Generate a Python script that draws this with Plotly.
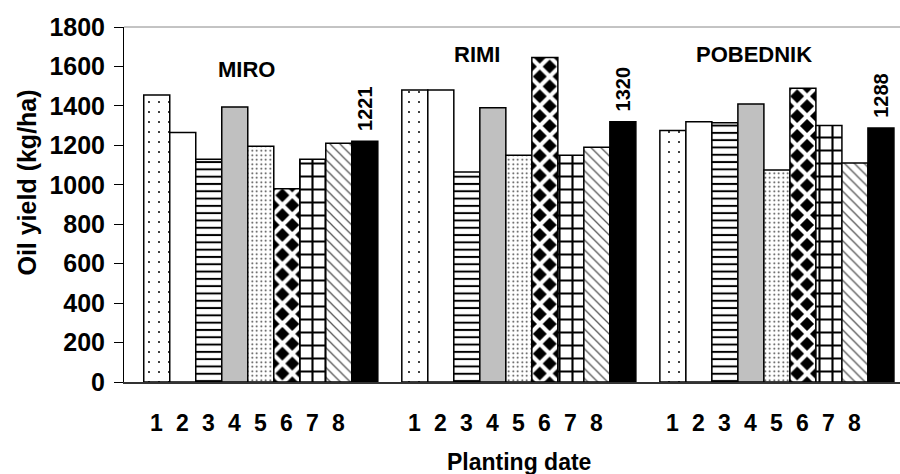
import plotly.graph_objects as go

varieties = ["MIRO", "RIMI", "POBEDNIK"]
date_labels = ["1", "2", "3", "4", "5", "6", "7", "8"]
date1 = [1455, 1480, 1275]
date2 = [1265, 1480, 1320]
date3 = [1130, 1065, 1315]
date4 = [1395, 1390, 1410]
date5 = [1195, 1150, 1075]
date6 = [980, 1645, 1490]
date7 = [1130, 1150, 1300]
date8 = [1210, 1190, 1110]
average = [1221, 1320, 1288]
y_ticks = [0, 200, 400, 600, 800, 1000, 1200, 1400, 1600, 1800]

series = [date1, date2, date3, date4, date5, date6, date7, date8, average]

FONT = "Liberation Sans, Arial, sans-serif"

styles = [
    dict(color="white", pattern=dict(shape=".", fgcolor="black", bgcolor="white", size=10, solidity=0.03)),
    dict(color="white"),
    dict(color="white", pattern=dict(shape="-", fgcolor="black", bgcolor="white", size=7.3, solidity=0.27)),
    dict(color="#c0c0c0"),
    dict(color="white", pattern=dict(shape=".", fgcolor="#333333", bgcolor="white", size=4.5, solidity=0.12)),
    dict(color="white", pattern=dict(shape="x", fgcolor="white", bgcolor="black", size=14, solidity=0.5)),
    dict(color="white", pattern=dict(shape="+", fgcolor="black", bgcolor="white", size=13, solidity=0.3)),
    dict(color="white", pattern=dict(shape="\\", fgcolor="#555555", bgcolor="white", size=7, solidity=0.18)),
    dict(color="black"),
]

fig = go.Figure()
names = date_labels + ["Mean"]
for i, (vals, st) in enumerate(zip(series, styles)):
    marker = dict(color=st["color"], line=dict(color="black", width=1.5))
    if "pattern" in st:
        pat = dict(st["pattern"])
        pat["fgopacity"] = 1
        marker["pattern"] = pat
    kw = {}
    if i == len(series) - 1:
        kw = dict(text=["\u00a0\u200a" + str(v) for v in vals], textposition="outside",
                  textangle=-90, constraintext="none",
                  textfont=dict(family=FONT, size=20, color="black", weight="bold"),
                  cliponaxis=False)
    fig.add_trace(go.Bar(x=varieties, y=vals, name=names[i], marker=marker,
                         showlegend=False, **kw))

bargap = 0.093
nb = len(series)
bw = (1 - bargap) / nb

annotations = []
# planting date labels under each bar
for g in range(len(varieties)):
    for j, lab in enumerate(date_labels):
        xc = g - (1 - bargap) / 2 + (j + 0.5) * bw
        annotations.append(dict(x=xc, xref="x", y=0, yref="paper", yanchor="middle",
                                yshift=-41, text=lab, showarrow=False,
                                font=dict(family=FONT, size=23, color="black", weight="bold")))

# variety labels (offset from group centre, height in data units)
var_pos = [(-0.055, 1584), (-0.164, 1660), (-0.089, 1660)]
for g, (name, (vx, vy)) in enumerate(zip(varieties, var_pos)):
    annotations.append(dict(x=g + vx, xref="x", y=vy, yref="y", text=name, showarrow=False,
                            font=dict(family=FONT, size=22, color="black", weight="bold")))

annotations.append(dict(x=1, xref="x", y=0, yref="paper", yanchor="middle", yshift=-80,
                        text="Planting date", showarrow=False,
                        font=dict(family=FONT, size=23, color="black", weight="bold")))
annotations.append(dict(x=-0.1248, xref="paper", xanchor="center", y=1012, yref="y",
                        yanchor="middle", textangle=-90,
                        text="Oil yield (kg/ha)", showarrow=False,
                        font=dict(family=FONT, size=25, color="black", weight="bold")))

fig.update_layout(
    width=900, height=474, autosize=False,
    margin=dict(l=124, r=0, t=27, b=92),
    paper_bgcolor="white", plot_bgcolor="white",
    barmode="group", bargap=bargap, bargroupgap=0,
    xaxis=dict(range=[-0.53, 2.477], showticklabels=False, ticks="",
               showline=True, linecolor="#333333", linewidth=2, showgrid=False,
               zeroline=False),
    yaxis=dict(range=[0, 1800], tickvals=y_ticks, ticks="outside", ticklen=9,
               tickcolor="black", tickwidth=1, showline=True, linecolor="black",
               linewidth=1, showgrid=False, zeroline=False, ticklabelstandoff=4,
               tickfont=dict(family=FONT, size=25, color="black", weight="bold")),
    annotations=annotations,
    shapes=[dict(type="line", xref="paper", yref="paper", x0=0, x1=1, y0=1, y1=1,
                 line=dict(color="#888888", width=1))],
)

fig.write_html("out.html", config={"displayModeBar": False},
               post_script="document.body.style.margin='0';document.body.style.overflow='hidden';")
